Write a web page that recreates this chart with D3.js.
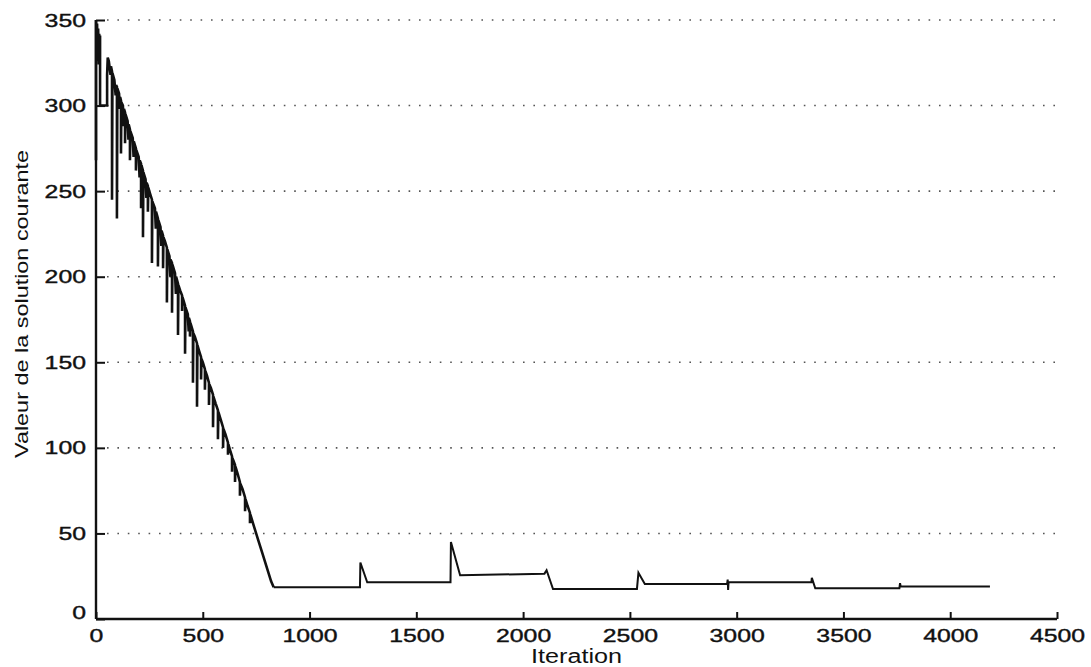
<!DOCTYPE html>
<html>
<head>
<meta charset="utf-8">
<script src="https://cdn.jsdelivr.net/npm/d3@7"></script>
<style>
  body { margin: 0; background: #fff; }
  svg text { font-family: "Liberation Sans", Arial, sans-serif; fill: #111; }
</style>
</head>
<body>
<div id="chart"></div>
<script>
// tick labels
var xTicks = [0, 500, 1000, 1500, 2000, 2500, 3000, 3500, 4000, 4500];
var yTicks = [0, 50, 100, 150, 200, 250, 300, 350];

// descent phase : [iteration, valeur]
var descent = [
  [0,268],[0,350],[3,336],[5,348],[8,326],[10,345],[13,324],[15,342],[17,330],[19,341],
  [19,300],[52,300],[52,318],[55,328],
  [60,326],[68,318],[70,323],[75,320],[75,245],[77,319],[86,315],[92,306],[94,312],[98,311],
  [98,234],[100,310],[108,307],[112,298],[113,305],[117,303],[117,272],[119,302],[126,300],[130,288],
  [131,298],[136,296],[136,278],[138,295],[148,291],[152,280],[153,289],[159,286],[159,268],[161,285],
  [172,281],[176,270],[177,279],[187,275],[187,262],[189,274],[200,270],[204,258],[205,268],[211,266],
  [211,240],[213,265],[220,262],[220,223],[222,261],[232,257],[236,246],[237,255],[243,253],[243,238],
  [245,252],[252,249],[262,245],[262,208],[264,244],[276,240],[280,228],[281,238],[290,234],[290,206],
  [292,233],[302,229],[306,218],[307,227],[314,224],[314,205],[316,223],[322,221],[332,217],[332,185],
  [334,216],[344,212],[348,200],[349,210],[356,208],[356,179],[358,207],[370,202],[374,190],[375,200],
  [384,196],[384,166],[386,195],[394,192],[403,189],[403,180],[405,188],[410,186],[417,183],[417,155],
  [419,182],[430,178],[434,168],[435,176],[440,174],[440,165],[442,173],[447,171],[454,168],[454,138],
  [456,167],[463,165],[473,161],[473,124],[475,160],[482,157],[492,153],[492,140],[494,152],[500,150],
  [510,146],[510,134],[512,145],[520,142],[529,138],[529,125],[531,137],[538,135],[548,131],[548,112],
  [550,130],[560,126],[571,122],[571,105],[573,121],[583,117],[595,112],[595,100],[597,111],[606,108],
  [618,103],[618,96],[620,102],[627,99],[637,95],[637,86],[639,94],[645,92],[651,90],[651,80],
  [653,89],[663,85],[674,80],[674,72],[676,79],[686,76],[698,71],[698,63],[700,70],[710,66],
  [721,62],[721,56],[723,61],[740,54],[760,46],[780,38],[800,30],[820,22],[832,18.5]
];

// plateau phase with restarts
var plateau = [
  [832,18.5],[1236,18.5],[1238,33],[1270,21.5],[1660,21.5],[1662,45],[1705,25.5],[2100,26.5],
  [2110,28.5],[2140,17.5],[2533,17.5],[2540,27],[2570,20.5],[2955,20.5],[2958,23],[2960,17],
  [2962,21.5],[3350,21.5],[3352,24],[3368,18],[3762,18],[3765,21],[3768,19],[4186,19]
];

var W = 1091, H = 667;
var margin = {top: 20, right: 34, bottom: 48, left: 96};
var width = W - margin.left - margin.right;
var height = H - margin.top - margin.bottom;

var svg = d3.select("#chart").append("svg")
  .attr("width", W).attr("height", H)
  .append("g")
  .attr("transform", "translate(" + margin.left + "," + margin.top + ")");

var x = d3.scaleLinear().domain([0, 4500]).range([0, width]);
var y = d3.scaleLinear().domain([0, 350]).range([height, 0]);

// dotted grid
svg.selectAll(".grid").data(yTicks.slice(1)).enter().append("line")
  .attr("x1", 11).attr("x2", width)
  .attr("y1", d => y(d)).attr("y2", d => y(d))
  .attr("stroke", "#555").attr("stroke-width", 1.6)
  .attr("stroke-dasharray", "1.6,8.8");

// axes, ticks inside
var xAxis = svg.append("g").attr("transform", "translate(0," + height + ")")
  .call(d3.axisBottom(x).tickValues(xTicks).tickSize(-7).tickPadding(13).tickFormat(d3.format("d")));
var yAxis = svg.append("g")
  .call(d3.axisLeft(y).tickValues(yTicks).tickSize(-9).tickPadding(10).tickFormat(d3.format("d")));

[xAxis, yAxis].forEach(function(a){
  a.select(".domain").attr("stroke", "#111").attr("stroke-width", 2.4);
  a.selectAll(".tick line").attr("stroke", "#111").attr("stroke-width", 2);
  a.selectAll(".tick text")
    .style("font-size", "19px").attr("fill", "#111")
    .attr("stroke", "#111").attr("stroke-width", 0.4)
    .attr("lengthAdjust", "spacingAndGlyphs")
    .attr("textLength", d => String(d).length * 13.8);
});
xAxis.selectAll(".tick text").attr("dy", "0.55em");
// domain path without end ticks
xAxis.select(".domain").attr("d", "M0,0H" + width);
yAxis.select(".domain").attr("d", "M0,0V" + height);
yAxis.selectAll(".tick text").filter(d => d === 0).attr("dy", "-0.05em");

var line = d3.line().x(d => x(d[0])).y(d => y(d[1]));

svg.append("path").datum(descent)
  .attr("d", line).attr("fill", "none")
  .attr("stroke", "#111").attr("stroke-width", 2.6).attr("stroke-linejoin", "miter");

svg.append("path").datum(plateau)
  .attr("d", line).attr("fill", "none")
  .attr("stroke", "#111").attr("stroke-width", 2);

// labels
svg.append("text")
  .attr("x", width / 2).attr("y", height + 44)
  .attr("text-anchor", "middle")
  .attr("textLength", 91).attr("lengthAdjust", "spacingAndGlyphs")
  .style("font-size", "20px")
  .text("Iteration");

svg.append("text")
  .attr("transform", "translate(-68," + (284) + ") rotate(-90)")
  .attr("text-anchor", "middle")
  .attr("textLength", 308).attr("lengthAdjust", "spacingAndGlyphs")
  .style("font-size", "19px")
  .text("Valeur de la solution courante");
</script>
</body>
</html>
